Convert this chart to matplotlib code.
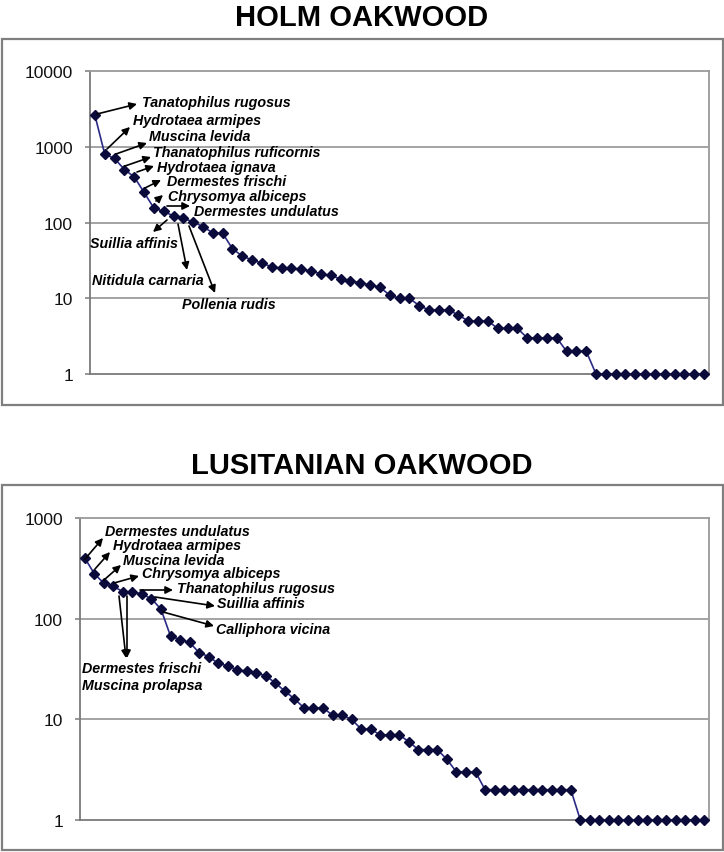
import matplotlib
matplotlib.use("Agg")
import matplotlib.pyplot as plt
from matplotlib.patches import Rectangle, FancyArrowPatch
from matplotlib.ticker import FixedLocator, FixedFormatter, NullLocator

# ---------------- data ----------------
holm_title = "HOLM OAKWOOD"
holm_values = [2600, 800, 700, 500, 400, 250, 155, 140, 122, 113, 102, 88, 73, 72,
               45, 36, 32, 29, 26, 25, 25, 24, 23, 21, 20, 18, 17, 16, 15, 14,
               11, 10, 10, 8, 7, 7, 7, 6, 5, 5, 5, 4, 4, 4, 3, 3, 3, 3, 2, 2, 2,
               1, 1, 1, 1, 1, 1, 1, 1, 1, 1, 1, 1]
holm_ticks = [1, 10, 100, 1000, 10000]
holm_ticklabels = ["1", "10", "100", "1000", "10000"]
holm_species = ["Tanatophilus rugosus", "Hydrotaea armipes", "Muscina levida",
                "Thanatophilus ruficornis", "Hydrotaea ignava", "Dermestes frischi",
                "Chrysomya albiceps", "Dermestes undulatus", "Suillia affinis",
                "Nitidula carnaria", "Pollenia rudis"]

lusi_title = "LUSITANIAN OAKWOOD"
lusi_values = [400, 280, 225, 210, 185, 185, 175, 158, 124, 67, 62, 58, 46, 42,
               36, 34, 31, 30, 29, 27, 23, 19,
               16, 13, 13, 13, 11, 11, 10, 8, 8, 7, 7, 7, 6, 5, 5, 5, 4, 3, 3, 3,
               2, 2, 2, 2, 2, 2, 2, 2, 2, 2,
               1, 1, 1, 1, 1, 1, 1, 1, 1, 1, 1, 1, 1, 1]
lusi_ticks = [1, 10, 100, 1000]
lusi_ticklabels = ["1", "10", "100", "1000"]
lusi_species = ["Dermestes undulatus", "Hydrotaea armipes", "Muscina levida",
                "Chrysomya albiceps", "Thanatophilus rugosus", "Suillia affinis",
                "Calliphora vicina", "Dermestes frischi", "Muscina prolapsa"]

# ---------------- layout (pixel positions in the 724x853 image) ----------------
W, H = 724, 853
def px(x, y):
    return (x / W, 1 - y / H)

holm_label_pos = [(142, 103), (133, 121), (149, 137), (153, 153), (157, 168),
                  (167, 182), (168, 197), (194, 212), (90, 244), (92, 281), (182, 305)]
holm_arrows = [((97, 115), (137, 105)), ((107, 150), (130, 128)), ((116, 155), (147, 144)),
               ((125, 167), (151, 158)), ((137, 173), (154, 167)), ((145, 189), (161, 181)),
               ((156, 202), (163, 196)), ((167, 207), (190, 207)), ((167, 221), (153, 233)),
               ((178, 225), (187, 271)), ((189, 227), (215, 294))]

lusi_label_pos = [(105, 532), (113, 546), (123, 561), (142, 574), (177, 589),
                  (217, 604), (216, 630), (82, 669), (82, 686)]
lusi_arrows = [((85, 560), (103, 539)), ((95, 570), (110, 553)), ((104, 581), (121, 566)),
               ((114, 584), (139, 577)), ((140, 591), (173, 591)), ((155, 598), (215, 607)),
               ((163, 613), (214, 627)), ((119, 597), (126, 659)), ((127, 597), (127, 659))]

BODY = "Liberation Sans"
line_col = "#2a2a85"
mark_col = "#0b0b3b"
grid_col = "#8a8a8a"

fig = plt.figure(figsize=(W / 100, H / 100), dpi=100)
fig.patch.set_facecolor("white")

# outer frames
for (x0, y0, x1, y1) in [(1.5, 39.5, 722.5, 405.5), (1.5, 485.5, 722.5, 851)]:
    fx0, fy1 = px(x0, y0)
    fx1, fy0 = px(x1, y1)
    fig.add_artist(Rectangle((fx0, fy0), fx1 - fx0, fy1 - fy0, transform=fig.transFigure,
                             fill=False, edgecolor="#7f7f7f", linewidth=1.6))

def make_panel(rect_px, values, ticks, ticklabels, title, title_y):
    x0, y0, x1, y1 = rect_px
    fx0, fy1 = px(x0, y0)
    fx1, fy0 = px(x1, y1)
    ax = fig.add_axes([fx0, fy0, fx1 - fx0, fy1 - fy0])
    n = len(values)
    ax.plot(range(n), values, color=line_col, lw=1.2, marker="D", markersize=5.6,
            markerfacecolor=mark_col, markeredgecolor=mark_col, zorder=3, clip_on=False)
    ax.set_yscale("log")
    ax.set_ylim(ticks[0], ticks[-1])
    ax.set_xlim(-0.5, n - 0.5)
    ax.yaxis.set_major_locator(FixedLocator(ticks))
    ax.yaxis.set_major_formatter(FixedFormatter(ticklabels))
    ax.yaxis.set_minor_locator(NullLocator())
    ax.xaxis.set_major_locator(NullLocator())
    ax.xaxis.set_minor_locator(NullLocator())
    for t in ticks[1:-1]:
        ax.axhline(t, color=grid_col, lw=1.1, zorder=1)
    for s in ["top", "right"]:
        ax.spines[s].set_color("#9a9a9a")
        ax.spines[s].set_linewidth(1.3)
    for s in ["left", "bottom"]:
        ax.spines[s].set_color("#7a7a7a")
        ax.spines[s].set_linewidth(1.3)
    ax.tick_params(axis="y", length=3.8, width=1.1, color="#7a7a7a", pad=8.5,
                   labelsize=12.5, labelcolor="#111111")
    for lab in ax.get_yticklabels():
        lab.set_family(BODY)
    fx, fy = px(362, title_y)
    fig.text(fx, fy, title, ha="center", va="center", fontsize=21, fontweight="bold",
             family=BODY, color="black")
    return ax

make_panel((90, 72, 709, 375), holm_values, holm_ticks, holm_ticklabels, holm_title, 18)
make_panel((80, 519, 709, 821), lusi_values, lusi_ticks, lusi_ticklabels, lusi_title, 466)

def annotate(names, positions, arrows):
    for name, (lx, ly) in zip(names, positions):
        fx, fy = px(lx, ly)
        fig.text(fx, fy, name, ha="left", va="center", fontsize=10.3, fontweight="bold",
                 fontstyle="italic", family=BODY, color="black", zorder=5)
    for (tail, head) in arrows:
        fig.add_artist(FancyArrowPatch(
            px(*tail), px(*head), transform=fig.transFigure, arrowstyle="-|>",
            mutation_scale=11, color="black", lw=1.2, shrinkA=0, shrinkB=0, zorder=5))

annotate(holm_species, holm_label_pos, holm_arrows)
annotate(lusi_species, lusi_label_pos, lusi_arrows)

fig.savefig("out.png", dpi=100, facecolor="white")
